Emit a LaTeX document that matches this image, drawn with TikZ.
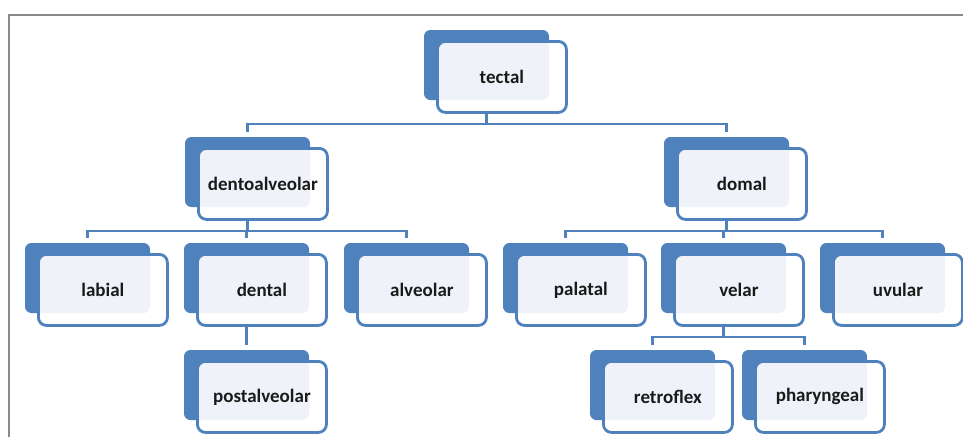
\documentclass[tikz,border=0pt]{standalone}
\usepackage{fontspec}
\setmainfont{Carlito}
\usetikzlibrary{calc}
\definecolor{obl}{HTML}{4F81BD}
\definecolor{frameg}{HTML}{8A8A8A}
\definecolor{txt}{HTML}{1A1A1A}
\tikzset{
  backbox/.style={draw=obl, fill=obl, line width=1pt, rounded corners=6pt, minimum width=124pt, minimum height=69pt, anchor=north west, inner sep=0pt},
  frontbox/.style={draw=obl, fill=white, fill opacity=0.91, text opacity=1, line width=2.8pt, rounded corners=8pt, minimum width=129pt, minimum height=71pt, anchor=north west, inner sep=0pt, font=\fontsize{19}{21}\selectfont\bfseries, text=txt},
  conn/.style={draw=obl, line width=2.8pt},
}
\newcommand{\tnode}[4]{%
  \node[backbox] (#1) at (#2,#3) {};
  \node[frontbox] (#1-f) at (#2+12,#3+10) {#4};
}
\begin{document}
\begin{tikzpicture}[x=1pt,y=-1pt]
\useasboundingbox (0,0) rectangle (963,437);
\draw[frameg, line width=1.8pt] (9,437) -- (9,15) -- (963,15);
\tnode{tectal}{424}{30}{tectal}
\tnode{dento}{185}{137}{dentoalveolar}
\tnode{domal}{664}{137}{domal}
\tnode{labial}{25}{243}{labial}
\tnode{dental}{184}{243}{dental}
\tnode{alveolar}{344}{243}{alveolar}
\tnode{palatal}{503}{243}{palatal}
\tnode{velar}{661}{243}{velar}
\tnode{uvular}{820}{243}{uvular}
\tnode{postalv}{184}{350}{postalveolar}
\tnode{retroflex}{590}{350}{retroflex}
\tnode{pharyn}{742}{350}{pharyngeal}
% level 1
\draw[conn] (tectal.south |- tectal-f.south) -- ($(tectal.south |- tectal-f.south)+(0,11)$);
\draw[conn] ($(dento.north)+(0,-5)$) -- ($(dento.north)+(0,-13)$) -| ($(domal.north)+(0,-5)$);
% level 2 left
\draw[conn] (dento.south |- dento-f.south) -- ($(dento.south |- dento-f.south)+(0,11)$);
\draw[conn] ($(labial.north)+(0,-5)$) -- ($(labial.north)+(0,-12)$) -| ($(alveolar.north)+(0,-5)$);
\draw[conn] ($(dental.north)+(0,-12)$) -- ($(dental.north)+(0,-5)$);
% level 2 right
\draw[conn] (domal.south |- domal-f.south) -- ($(domal.south |- domal-f.south)+(0,11)$);
\draw[conn] ($(palatal.north)+(0,-5)$) -- ($(palatal.north)+(0,-12)$) -| ($(uvular.north)+(0,-5)$);
\draw[conn] ($(velar.north)+(0,-12)$) -- ($(velar.north)+(0,-5)$);
% level 3
\draw[conn] (dental.south |- dental-f.south) -- ($(postalv.north)+(0,-5)$);
\draw[conn] (velar.south |- velar-f.south) -- ($(velar.south |- velar-f.south)+(0,11)$);
\draw[conn] ($(retroflex.north)+(0,-5)$) -- ($(retroflex.north)+(0,-13)$) -| ($(pharyn.north)+(0,-5)$);
\end{tikzpicture}
\end{document}
